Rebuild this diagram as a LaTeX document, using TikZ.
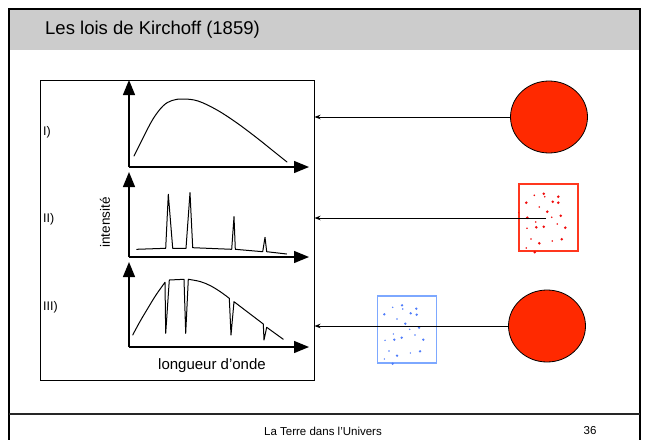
\documentclass[tikz,border=0pt]{standalone}
\usepackage{fontspec}
\setmainfont{Liberation Sans}
\usetikzlibrary{arrows.meta,shapes.geometric}
\definecolor{sunred}{RGB}{255,41,0}
\definecolor{gasred}{RGB}{255,55,30}
\definecolor{dotred}{RGB}{240,10,10}
\definecolor{gasblue}{RGB}{125,168,255}
\definecolor{dotblue}{RGB}{80,125,250}
\definecolor{headgray}{RGB}{204,204,204}
\begin{document}
\begin{tikzpicture}[x=1pt,y=-1pt,
  axis/.style={line width=1.3pt,-{Triangle[width=12pt,length=15pt]}},
  spec/.style={line width=1pt,line join=round,line cap=round},
  ray/.style={line width=0.9pt,-{Stealth[length=6pt,width=4.5pt]}},
  star/.style={ellipse,draw=black,line width=0.8pt,fill=sunred,minimum width=77pt,minimum height=72pt,inner sep=0pt},
  gasbox/.style={draw=#1,line width=1.6pt,minimum width=59pt,minimum height=67pt,inner sep=0pt},
  lab/.style={font=\fontsize{12.5}{15}\selectfont,inner sep=0pt,anchor=west}]
\useasboundingbox (0,0) rectangle (645,439);
% slide frame
\fill[headgray] (9,9) rectangle (640,50);
\draw[line width=2.6pt] (9,441) -- (9,9) -- (640,9) -- (640,441);
\draw[line width=1.2pt,black!85] (9,414) -- (640,414);
\node[anchor=base west,inner sep=0pt,font=\fontsize{18.5}{22}\selectfont] (title) at (45,34) {Les lois de Kirchoff (1859)};
\node[inner sep=0pt,font=\fontsize{11.5}{14}\selectfont] (foot) at (323,431) {La Terre dans l'Univers};
\node[inner sep=0pt,font=\fontsize{11.5}{14}\selectfont] (page) at (590,431) {36};
% diagram box
\node[draw,line width=1pt,minimum width=274pt,minimum height=300pt,inner sep=0pt] (frame) at (177,230) {};
% axes
\draw[axis] (129,167) -- (129,80);
\draw[axis] (129,167) -- (309,167);
\draw[axis] (129,257) -- (129,172);
\draw[axis] (129,257) -- (309,257);
\draw[axis] (129,347) -- (129,262);
\draw[axis] (129,347) -- (309,347);
% spectra
\draw[spec] plot[smooth,tension=0.6] coordinates {(134,156) (143,138) (153,119) (163,106) (172,100.5) (183,99) (198,101) (217,110) (237,123) (257,138) (272,150) (287,162)};
\draw[spec] (136.7,249.3) -- (165.7,248.3) -- (168.3,194.3) -- (172.7,248.3) -- (186,248.3) -- (190,192.7) -- (192.7,247.7) -- (231.7,249.3) -- (234,216.7) -- (235.3,249.3) -- (262.7,251.7) -- (265,237.3) -- (266.7,251.7) -- (286.7,254);
\draw[spec] plot[smooth,tension=0.6] coordinates {(132.7,335) (140,321.5) (148,308) (156,295) (165,282.3)} -- (165.7,333.3) -- (169.3,280) -- (184,279.3) -- (185.7,333.3) -- (188.3,279.3);
\draw[spec] plot[smooth,tension=0.6] coordinates {(188.3,279.3) (200,281.5) (210,285.5) (220,291.5) (229.3,298.3)} -- (231,335) -- (234,301.7) -- (263.3,324) -- (264,340) -- (266.7,327.3) -- (283.3,339.3);
% labels
\node[lab] (l1) at (43,132) {I)};
\node[lab] (l2) at (43,219) {II)};
\node[lab] (l3) at (43,307) {III)};
\node[inner sep=0pt,rotate=90,font=\fontsize{13.5}{16}\selectfont] (ylab) at (105,222.5) {intensité};
\node[inner sep=0pt,font=\fontsize{15}{18}\selectfont] (xlab) at (212,366) {longueur d’onde};
% sources
\node[star] (star1) at (549,117) {};
\node[star] (star3) at (547,326) {};
\node[gasbox=gasred] (gas2) at (548.5,217.5) {};
\node[gasbox=gasblue] (gas3) at (407,329.5) {};
\foreach \x/\y/\r in {534.3/195.3/0.9,543.7/193.7/1.4,544.7/196.7/0.9,558.3/196.7/1.4,526.3/202.7/1.4,552.7/201.7/1.4,558.3/202.7/1.4,539.3/207/0.9,547.3/211.7/1.4,527.3/217.7/1.4,551.7/217.3/0.9,560.7/215.7/1.4,535.7/222/0.9,557.3/224/0.9,527/228.3/0.9,536.3/227.3/1.4,543.7/226.7/1.4,565.3/227.7/1.4,531/239/0.9,539.3/243.3/1.4,552.3/241/0.9,561.7/239.3/1.4,526.3/248/0.9,534.7/252.3/1.4,518.7/212.7/0.7}
  \fill[dotred] (\x,\y) circle (\r pt);
\foreach \x/\y/\r in {392.7/307.3/0.8,402/305.3/1.3,402.7/309/0.8,416.3/308.7/1.3,384.3/314.3/1.3,410.7/313.3/1.3,416.7/314.7/1.3,397/319/0.8,405.3/323.7/1.3,409.7/329.3/0.8,419/327.7/1.3,393.3/334/0.8,394.3/339.7/1.3,401.7/337.7/1.3,415/335/0.8,385/340.3/0.8,423.3/339.7/1.3,389/351/0.8,397/355.7/1.3,410.3/353/0.8,420/351.3/1.3,384.3/359/0.8,392.7/363.7/1.3}
  \fill[dotblue] (\x,\y) circle (\r pt);
% rays
\coordinate (src2) at (546,218);
\draw[ray] (star1.west) -- (star1.west -| frame.east);
\draw[ray] (src2) -- (src2 -| frame.east);
\draw[ray] (star3.west) -- (star3.west -| frame.east);
\end{tikzpicture}
\end{document}
